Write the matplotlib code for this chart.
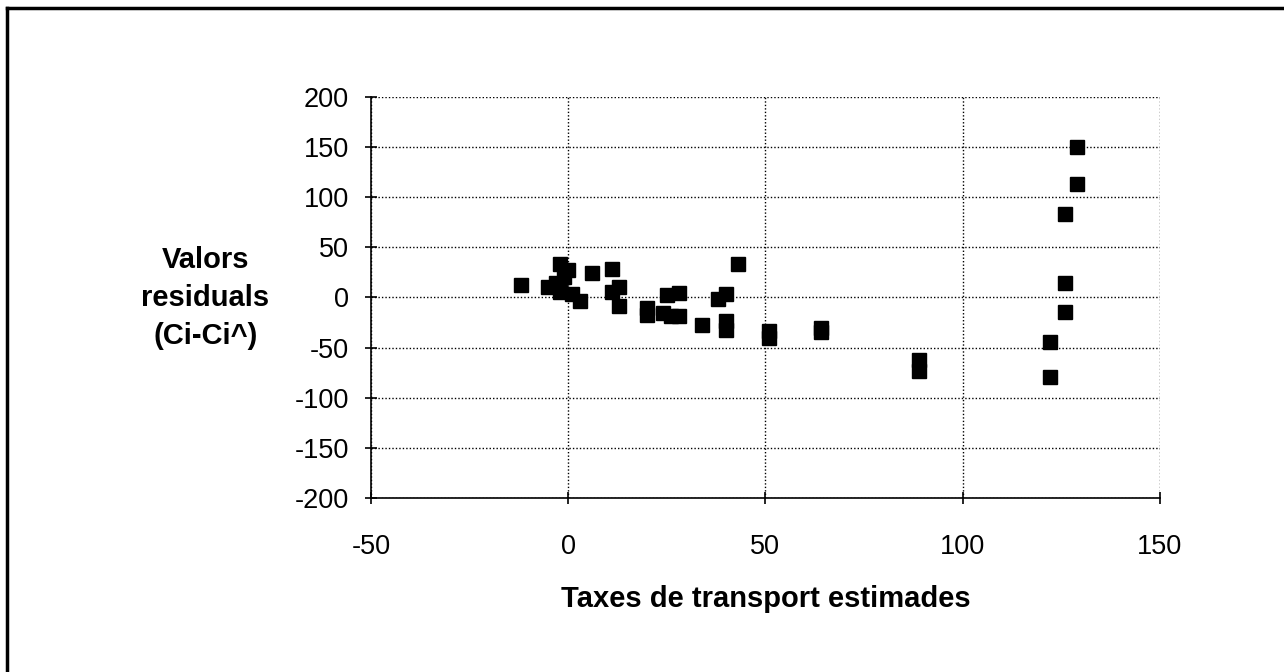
import matplotlib.pyplot as plt
from matplotlib.lines import Line2D

plt.rcParams['font.family'] = ['Liberation Sans', 'DejaVu Sans']
plt.rcParams['axes.unicode_minus'] = False

# estimated transport rates vs residuals (Ci - Ci^)
x_est = [-12, -5, -3, -2, -2, -1, 0, 1, 3, 6, 11, 11, 13, 13,
         20, 20, 24, 25, 26, 28, 28, 34, 38, 40, 40, 40, 43,
         51, 51, 64, 64, 89, 89, 122, 122, 126, 126, 126, 129, 129]
resid = [12, 10, 14, 33, 5, 20, 27, 3, -3, 24, 28, 5, 10, -8,
         -10, -17, -15, 2, -18, 4, -18, -27, -2, 3, -23, -32, 33,
         -33, -40, -30, -34, -62, -73, -44, -79, 83, 14, -14, 150, 113]

x_ticks = [-50, 0, 50, 100, 150]
y_ticks = [-200, -150, -100, -50, 0, 50, 100, 150, 200]
x_labels = ['-50', '0', '50', '100', '150']
y_labels = ['-200', '-150', '-100', '-50', '0', '50', '100', '150', '200']

fig = plt.figure(figsize=(12.84, 6.72), dpi=100)
ax = fig.add_axes([0.2889, 0.2589, 0.6145, 0.5968])

ax.plot(x_est, resid, 's', color='black', markersize=10.5, linestyle='none')

ax.set_xlim(-50, 150)
ax.set_ylim(-200, 200)
ax.set_xticks(x_ticks)
ax.set_xticklabels(x_labels)
ax.set_yticks(y_ticks)
ax.set_yticklabels(y_labels)
ax.grid(True, linestyle=(0, (1, 1.5)), color='black', linewidth=1)
ax.set_axisbelow(True)
for s in ['top', 'right']:
    ax.spines[s].set_visible(False)
ax.spines['left'].set_linewidth(1.2)
ax.spines['bottom'].set_linewidth(1.2)
ax.tick_params(direction='inout', length=8, width=1.2, labelsize=19.5)
ax.tick_params(axis='x', pad=22)
ax.tick_params(axis='y', pad=12)

ax.set_xlabel('Taxes de transport estimades', fontsize=21, fontweight='bold', labelpad=18)
fig.text(0.16, 0.556, 'Valors\nresiduals\n(Ci-Ci^)', fontsize=21, fontweight='bold',
         ha='center', va='center', linespacing=1.45)

# outer frame (top and left edges only)
fig.add_artist(Line2D([7 / 1284, 1], [1 - 8 / 672, 1 - 8 / 672], color='black', linewidth=2.5))
fig.add_artist(Line2D([7 / 1284, 7 / 1284], [0, 1 - 8 / 672], color='black', linewidth=2.5))

plt.savefig('out.png', dpi=100)
